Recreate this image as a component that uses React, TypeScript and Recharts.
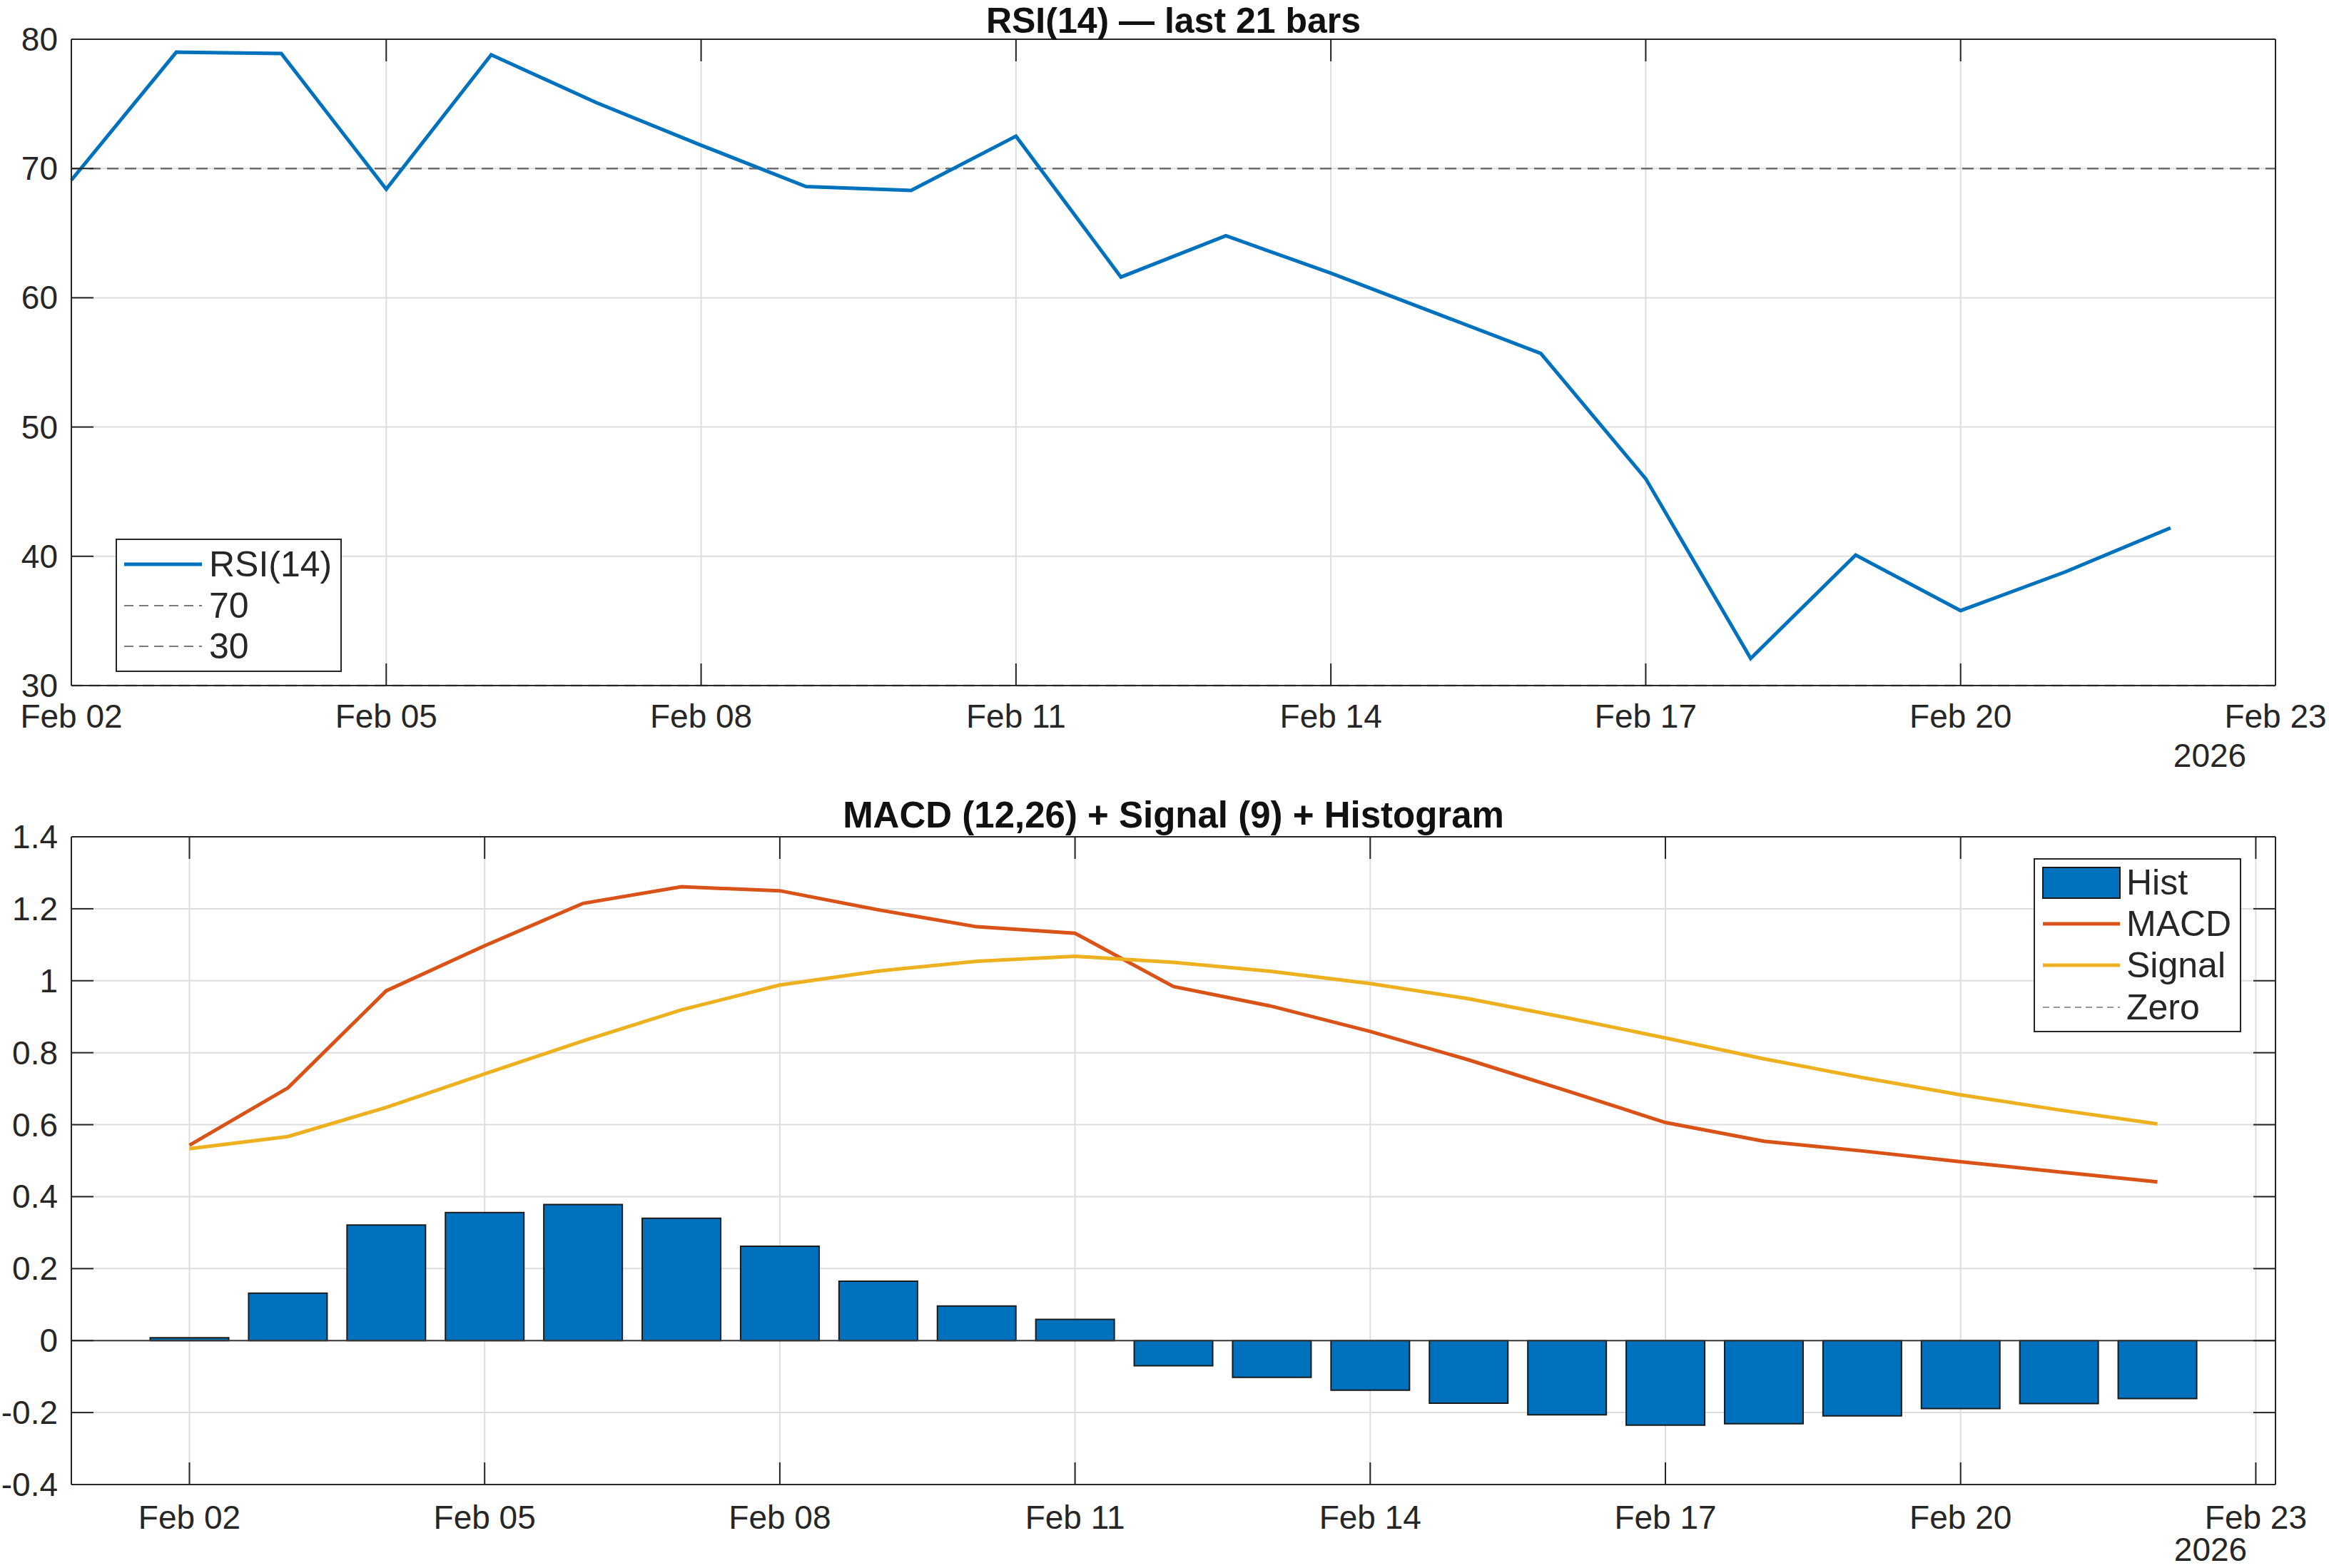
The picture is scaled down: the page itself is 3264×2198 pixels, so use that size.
import React from 'react';
import { LineChart, ComposedChart, Line, Bar, XAxis, YAxis, CartesianGrid, ReferenceLine } from 'recharts';

const dates = [
  '2026-02-02', '2026-02-03', '2026-02-04', '2026-02-05', '2026-02-06', '2026-02-07', '2026-02-08',
  '2026-02-09', '2026-02-10', '2026-02-11', '2026-02-12', '2026-02-13', '2026-02-14', '2026-02-15',
  '2026-02-16', '2026-02-17', '2026-02-18', '2026-02-19', '2026-02-20', '2026-02-21', '2026-02-22',
];
const rsi = [69.1, 79.0, 78.9, 68.4, 78.8, 75.1, 71.8, 68.6, 68.3, 72.5, 61.6, 64.8, 61.9, 58.8, 55.7, 46.0, 32.1, 40.1, 35.8, 38.8, 42.2];
const macd = [0.543, 0.702, 0.972, 1.097, 1.215, 1.261, 1.25, 1.197, 1.15, 1.132, 0.984, 0.929, 0.859, 0.78, 0.694, 0.606, 0.554, 0.527, 0.497, 0.469, 0.441];
const signal = [0.533, 0.567, 0.648, 0.741, 0.833, 0.919, 0.988, 1.027, 1.054, 1.068, 1.051, 1.026, 0.992, 0.95, 0.897, 0.841, 0.783, 0.731, 0.683, 0.641, 0.602];
const hist = [0.008, 0.132, 0.321, 0.356, 0.378, 0.34, 0.262, 0.165, 0.096, 0.059, -0.07, -0.102, -0.138, -0.174, -0.206, -0.235, -0.231, -0.209, -0.189, -0.175, -0.161];

const xTickDays = [2, 5, 8, 11, 14, 17, 20, 23];
const xTickLabels = ['Feb 02', 'Feb 05', 'Feb 08', 'Feb 11', 'Feb 14', 'Feb 17', 'Feb 20', 'Feb 23'];
const rsiTicks = [30, 40, 50, 60, 70, 80];
const macdTicks = [-0.4, -0.2, 0, 0.2, 0.4, 0.6, 0.8, 1, 1.2, 1.4];

const dayOf = (d: string) => Number(d.slice(8, 10));
const rsiData = dates.map((d, i) => ({ x: dayOf(d), rsi: rsi[i] }));
const macdData = dates.map((d, i) => ({ x: dayOf(d), macd: macd[i], signal: signal[i], hist: hist[i] }));

const FONT = "'Liberation Sans', Arial, Helvetica, sans-serif";
const TXT = '#262626';
const AX = '#262626';
const BLUE = '#0072BD';
const ORANGE = '#D95319';
const YELLOW = '#EDB120';
const GRID = '#dedede';

const fmtY = (v: number) => String(Number(v.toFixed(1)));

const XTick = (props: any) => {
  const idx = xTickDays.indexOf(Math.round(props.payload.value));
  return (
    <text x={props.x} y={props.y} textAnchor="middle" fontFamily={FONT} fontSize={46} fill={TXT}>
      {idx >= 0 ? xTickLabels[idx] : ''}
    </text>
  );
};
const YTick = (props: any) => (
  <text x={props.x} y={props.y} textAnchor="end" dominantBaseline="central" fontFamily={FONT} fontSize={46} fill={TXT}>
    {fmtY(props.payload.value)}
  </text>
);
const NoTick = () => <g />;

const axisLine = { stroke: AX, strokeWidth: 2 };
const tickLine = { stroke: AX, strokeWidth: 2 };

export default function App() {
  return (
    <div style={{ position: 'absolute', left: 0, top: 0, width: 3264, height: 2198, background: '#fff', overflow: 'hidden' }}>
      <div style={{ position: 'absolute', left: 0, top: 0 }}>
        <LineChart width={3264} height={1100} data={rsiData} margin={{ top: 54, right: 74, bottom: 0, left: 0 }}>
          <CartesianGrid stroke={GRID} strokeWidth={2} />
          <XAxis dataKey="x" type="number" domain={[2, 23]} ticks={xTickDays} interval={0} height={139}
            tickSize={-31} tickMargin={90} axisLine={axisLine} tickLine={tickLine} tick={XTick} />
          <XAxis xAxisId="top" orientation="top" dataKey="x" type="number" domain={[2, 23]} ticks={xTickDays} interval={0} height={1}
            tickSize={-31} axisLine={axisLine} tickLine={tickLine} tick={NoTick} />
          <YAxis type="number" domain={[30, 80]} ticks={rsiTicks} interval={0} width={100}
            tickSize={-31} tickMargin={50} axisLine={axisLine} tickLine={tickLine} tick={YTick} />
          <YAxis yAxisId="right" orientation="right" type="number" domain={[30, 80]} ticks={rsiTicks} interval={0} width={1}
            tickSize={-31} axisLine={axisLine} tickLine={tickLine} tick={NoTick} />
          <ReferenceLine y={70} stroke="#6e6e6e" strokeWidth={2.5} strokeDasharray="16 9" />
          <ReferenceLine y={30} stroke="#6e6e6e" strokeWidth={2.5} strokeDasharray="16 9" />
          <Line type="linear" dataKey="rsi" stroke={BLUE} strokeWidth={5} dot={false} isAnimationActive={false} />
        </LineChart>
      </div>
      <div style={{ position: 'absolute', left: 0, top: 1100 }}>
        <ComposedChart width={3264} height={1098} data={macdData} margin={{ top: 72, right: 74, bottom: 0, left: 0 }}>
          <CartesianGrid stroke={GRID} strokeWidth={2} />
          <XAxis dataKey="x" type="number" domain={[0.8, 23.2]} ticks={xTickDays} interval={0} height={117}
            tickSize={-31} tickMargin={93} axisLine={axisLine} tickLine={tickLine} tick={XTick} allowDataOverflow />
          <XAxis xAxisId="top" orientation="top" dataKey="x" type="number" domain={[0.8, 23.2]} ticks={xTickDays} interval={0} height={1}
            tickSize={-31} axisLine={axisLine} tickLine={tickLine} tick={NoTick} allowDataOverflow />
          <YAxis type="number" domain={[-0.4, 1.4]} ticks={macdTicks} interval={0} width={100}
            tickSize={-31} tickMargin={50} axisLine={axisLine} tickLine={tickLine} tick={YTick} allowDataOverflow />
          <YAxis yAxisId="right" orientation="right" type="number" domain={[-0.4, 1.4]} ticks={macdTicks} interval={0} width={1}
            tickSize={-31} axisLine={axisLine} tickLine={tickLine} tick={NoTick} allowDataOverflow />
          <Bar dataKey="hist" fill={BLUE} stroke="#1a1a1a" strokeWidth={2} barSize={110} isAnimationActive={false} />
          <ReferenceLine y={0} stroke="#3a3a3a" strokeWidth={2} />
          <Line type="linear" dataKey="macd" stroke={ORANGE} strokeWidth={5} dot={false} isAnimationActive={false} />
          <Line type="linear" dataKey="signal" stroke={YELLOW} strokeWidth={5} dot={false} isAnimationActive={false} />
        </ComposedChart>
      </div>
      <svg width={3264} height={2198} style={{ position: 'absolute', left: 0, top: 0, pointerEvents: 'none' }}>
        <text x={1644.5} y={46} textAnchor="middle" fontFamily={FONT} fontWeight="bold" fontSize={50} fill="#111">RSI(14) — last 21 bars</text>
        <text x={1644.5} y={1160} textAnchor="middle" fontFamily={FONT} fontWeight="bold" fontSize={51} fill="#111">MACD (12,26) + Signal (9) + Histogram</text>
        <text x={3097} y={1075} textAnchor="middle" fontFamily={FONT} fontSize={46} fill={TXT}>2026</text>
        <text x={3098} y={2188} textAnchor="middle" fontFamily={FONT} fontSize={46} fill={TXT}>2026</text>

        <g fontFamily={FONT} fontSize={50} fill={TXT}>
          <rect x={163} y={756} width={315} height={185} fill="#fff" stroke={AX} strokeWidth={2} />
          <line x1={174} x2={283} y1={791} y2={791} stroke={BLUE} strokeWidth={5} />
          <text x={293} y={791} dominantBaseline="central">RSI(14)</text>
          <line x1={174} x2={283} y1={849} y2={849} stroke="#7a7a7a" strokeWidth={2} strokeDasharray="13 8" />
          <text x={293} y={849} dominantBaseline="central">70</text>
          <line x1={174} x2={283} y1={906} y2={906} stroke="#7a7a7a" strokeWidth={2} strokeDasharray="13 8" />
          <text x={293} y={906} dominantBaseline="central">30</text>
        </g>

        <g fontFamily={FONT} fontSize={50} fill={TXT}>
          <rect x={2851} y={1204} width={289} height={242} fill="#fff" stroke={AX} strokeWidth={2} />
          <rect x={2863} y={1216} width={108} height={43} fill={BLUE} stroke="#1a1a1a" strokeWidth={2} />
          <text x={2980} y={1237} dominantBaseline="central">Hist</text>
          <line x1={2863} x2={2971} y1={1295} y2={1295} stroke={ORANGE} strokeWidth={5} />
          <text x={2980} y={1295} dominantBaseline="central">MACD</text>
          <line x1={2863} x2={2971} y1={1353} y2={1353} stroke={YELLOW} strokeWidth={5} />
          <text x={2980} y={1353} dominantBaseline="central">Signal</text>
          <line x1={2863} x2={2971} y1={1412} y2={1412} stroke="#333" strokeWidth={1.2} strokeDasharray="9 6" />
          <text x={2980} y={1412} dominantBaseline="central">Zero</text>
        </g>
      </svg>
    </div>
  );
}
